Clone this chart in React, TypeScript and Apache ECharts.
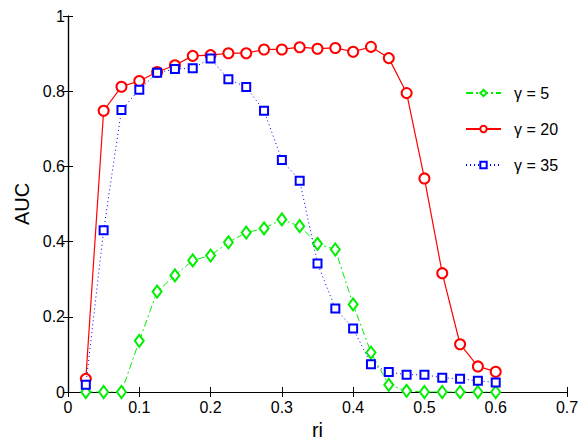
import React, { useEffect, useRef } from "react";
import * as echarts from "echarts";

const riValues = [0.025, 0.05, 0.075, 0.1, 0.125, 0.15, 0.175, 0.2, 0.225, 0.25, 0.275, 0.3, 0.325, 0.35, 0.375, 0.4, 0.425, 0.45, 0.475, 0.5, 0.525, 0.55, 0.575, 0.6];
const gamma5 = [0, 0, 0, 0.136, 0.267, 0.31, 0.35, 0.363, 0.398, 0.424, 0.435, 0.459, 0.441, 0.394, 0.379, 0.233, 0.105, 0.019, 0.003, 0, 0, 0, 0, 0];
const gamma20 = [0.035, 0.748, 0.812, 0.827, 0.851, 0.869, 0.894, 0.896, 0.901, 0.901, 0.911, 0.911, 0.917, 0.913, 0.915, 0.905, 0.918, 0.888, 0.795, 0.568, 0.316, 0.127, 0.068, 0.054];
const gamma35 = [0.019, 0.43, 0.75, 0.804, 0.849, 0.859, 0.861, 0.887, 0.832, 0.811, 0.748, 0.617, 0.562, 0.342, 0.222, 0.169, 0.074, 0.053, 0.046, 0.046, 0.038, 0.035, 0.03, 0.025];
const seriesNames = ["γ = 5", "γ = 20", "γ = 35"];
const xTickLabels = ["0", "0.1", "0.2", "0.3", "0.4", "0.5", "0.6", "0.7"];
const yTickLabels = ["0", "0.2", "0.4", "0.6", "0.8", "1"];

const FONT = "'Liberation Sans', Arial, Helvetica, sans-serif";

export default function App() {
  const ref = useRef<HTMLDivElement>(null);
  useEffect(() => {
    if (!ref.current) return;
    const chart = echarts.init(ref.current, undefined, { renderer: "svg" });
    const pair = (ys: number[]) => riValues.map((x, i) => [x, ys[i]]);
    const axisLine = { show: true, lineStyle: { color: "#000", width: 1.2 } };
    const tick = { show: true, inside: true, length: 5, lineStyle: { color: "#000", width: 1 } };
    chart.setOption({
      animation: false,
      backgroundColor: "#fff",
      grid: { left: 68, right: 12, top: 16, bottom: 49, show: false, containLabel: false, outerBoundsMode: "none" },
      legend: {
        orient: "vertical",
        left: 460,
        top: 80,
        itemWidth: 35,
        itemHeight: 8,
        itemGap: 20,
        textStyle: { fontFamily: FONT, fontSize: 16, color: "#000", padding: [0, 0, 0, 8] },
        data: seriesNames,
      },
      xAxis: [
        {
          type: "value",
          min: 0,
          max: 0.7,
          interval: 0.1,
          position: "bottom",
          name: "ri",
          nameLocation: "middle",
          nameGap: 27,
          nameTextStyle: { fontFamily: FONT, fontSize: 20, color: "#000" },
          axisLine,
          axisTick: tick,
          splitLine: { show: false },
          axisLabel: {
            fontFamily: FONT,
            fontSize: 16,
            color: "#000",
            margin: 7,
            formatter: (v: number) => xTickLabels[Math.round(v * 10)],
          },
        },
        {
          type: "value",
          min: 0,
          max: 0.7,
          interval: 0.1,
          position: "top",
          axisLine,
          axisTick: tick,
          splitLine: { show: false },
          axisLabel: { show: false },
        },
      ],
      yAxis: [
        {
          type: "value",
          min: 0,
          max: 1,
          interval: 0.2,
          position: "left",
          name: "AUC",
          nameLocation: "middle",
          nameGap: 31,
          nameTextStyle: { fontFamily: FONT, fontSize: 20, color: "#000" },
          axisLine,
          axisTick: tick,
          splitLine: { show: false },
          axisLabel: {
            fontFamily: FONT,
            fontSize: 16,
            color: "#000",
            margin: 3,
            formatter: (v: number) => yTickLabels[Math.round(v * 5)],
          },
        },
        {
          type: "value",
          min: 0,
          max: 1,
          interval: 0.2,
          position: "right",
          axisLine,
          axisTick: tick,
          splitLine: { show: false },
          axisLabel: { show: false },
        },
      ],
      series: [
        {
          name: seriesNames[0],
          type: "line",
          data: pair(gamma5),
          symbol: "emptyDiamond",
          symbolSize: [9, 12],
          color: "#00ee00",
          lineStyle: { color: "#00ee00", width: 1, type: [7, 3, 2, 3] },
          itemStyle: { color: "#00ee00", borderWidth: 1 },
          z: 3,
        },
        {
          name: seriesNames[1],
          type: "line",
          data: pair(gamma20),
          symbol: "emptyCircle",
          symbolSize: 10,
          color: "#ff0000",
          lineStyle: { color: "#ff0000", width: 1.2, type: "solid" },
          itemStyle: { color: "#ff0000", borderWidth: 1 },
          z: 2,
        },
        {
          name: seriesNames[2],
          type: "line",
          data: pair(gamma35),
          symbol: "emptyRect",
          symbolSize: 8,
          color: "#0000ff",
          lineStyle: { color: "#0000ff", width: 1, type: [1, 3] },
          itemStyle: { color: "#0000ff", borderWidth: 1.2 },
          z: 4,
        },
      ],
    });
    return () => chart.dispose();
  }, []);
  return (
    <div
      ref={ref}
      style={{ position: "absolute", left: 0, top: 0, width: 579, height: 441, overflow: "hidden" }}
    />
  );
}
